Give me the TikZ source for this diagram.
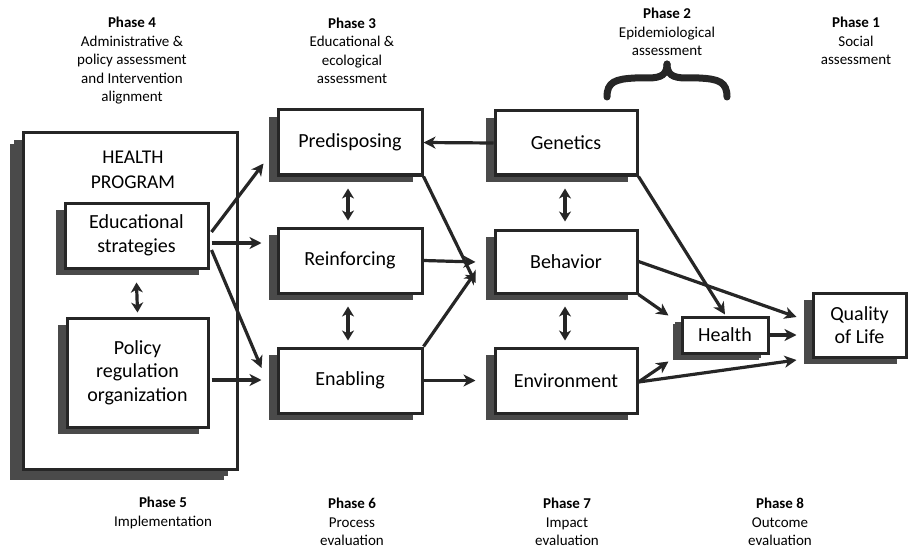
\documentclass[tikz,border=0pt]{standalone}
\usepackage{fontspec}
\setmainfont{Carlito}
\usetikzlibrary{shadows,arrows.meta,calc}
\definecolor{shd}{HTML}{4A4A4A}
\definecolor{ln}{HTML}{262626}
\tikzset{
  boxx/.style={draw=ln, line width=3pt, fill=white, align=center, inner sep=0pt,
    font=\fontsize{20}{23.5}\selectfont,
    general shadow={fill=shd, draw=none, shadow xshift=-9pt, shadow yshift=-7pt}},
  arr/.style={draw=ln, line width=3.2pt, -{Stealth[length=12pt,width=12pt,inset=3.5pt]}},
  darr/.style={draw=ln, line width=3.2pt, {Stealth[length=10pt,width=12pt,inset=3pt]}-{Stealth[length=10pt,width=12pt,inset=3pt]}},
  phase/.style={align=center, inner sep=0pt, font=\fontsize{15}{18.5}\selectfont}
}
\begin{document}
\begin{tikzpicture}[x=1pt,y=-1pt]
\useasboundingbox (0,0) rectangle (909,548);
% outer program box
\node[boxx, minimum width=214pt, minimum height=336pt,
  general shadow={fill=shd, draw=none, shadow xshift=-13pt, shadow yshift=-11pt}] (prog) at (130,301) {};
\node[align=center, inner sep=0pt, font=\fontsize{19.5}{25}\selectfont] (progt) at (133,170) {HEALTH\\PROGRAM};
\node[boxx, minimum width=143pt, minimum height=65pt] (edu) at (136.5,235.5) {Educational\\strategies};
\node[boxx, minimum width=141pt, minimum height=109pt] (pol) at (137.5,372.5) {Policy\\regulation\\organization};
% column 2
\node[boxx, minimum width=144pt, minimum height=65pt] (pre) at (350,142.5) {Predisposing};
\node[boxx, minimum width=144pt, minimum height=65pt] (rei) at (350,260.5) {Reinforcing};
\node[boxx, minimum width=144pt, minimum height=65pt] (ena) at (350,380.5) {Enabling};
% column 3
\node[boxx, minimum width=142pt, minimum height=64pt] (gen) at (566,143) {Genetics};
\node[boxx, minimum width=142pt, minimum height=63pt] (beh) at (566,261.5) {Behavior};
\node[boxx, minimum width=142pt, minimum height=65pt] (env) at (566,380.5) {Environment};
% right
\node[boxx, minimum width=86pt, minimum height=36pt,
  general shadow={fill=shd, draw=none, shadow xshift=-7pt, shadow yshift=-5pt}] (hea) at (725,335) {Health};
\node[boxx, minimum width=93pt, minimum height=64pt] (qol) at (859.5,325) {Quality\\of Life};
% arrows from program
\draw[arr] ($(edu.east)+(2,-3.5)$) -- ($(pre.south west)+(-13,-13)$);
\draw[arr] ($(edu.east)+(2,7.5)$) -- ($(rei.west)+(-15,-17.5)$);
\draw[arr] ($(edu.east)+(2,14.5)$) -- ($(ena.west)+(-15,-12.5)$);
\draw[arr] ($(pol.east)+(2,7.5)$) -- ($(ena.west)+(-15,-0.5)$);
\draw[darr] ($(edu.south)+(0,13)$) -- ($(pol.north)+(0,-4)$);
% column 2
\draw[arr] (gen.west) -- (pre.east);
\draw[arr] (pre.south east) -- ($(beh.west)+(-18,21.5)$);
\draw[arr] (rei.east) -- ($(beh.west)+(-18,0.5)$);
\draw[arr] (ena.north east) -- ($(beh.west)+(-18,10.5)$);
\draw[arr] (ena.east) -- ($(env.west)+(-18,0)$);
\draw[darr] ($(pre.south)+(-2,12)$) -- ($(rei.north)+(-2,-6)$);
\draw[darr] ($(rei.south)+(-2,12)$) -- ($(ena.north)+(-2,-6)$);
% column 3
\draw[darr] ($(gen.south)+(-1,12)$) -- ($(beh.north)+(-1,-7)$);
\draw[darr] ($(beh.south)+(-1,12)$) -- ($(env.north)+(-1,-6)$);
\draw[arr] (gen.south east) -- ($(hea.north)+(0,-1)$);
\draw[arr] (beh.east) -- ($(qol.west)+(-15,-8)$);
\draw[arr] (beh.south east) -- ($(hea.north west)+(-12,0)$);
\draw[arr] ($(env.east)+(0,1.5)$) -- ($(hea.south west)+(-12,7)$);
\draw[arr] ($(env.east)+(0,1.5)$) -- ($(qol.west)+(-15,35)$);
\draw[arr] (hea.east) -- ($(qol.west)+(-15,10)$);
% brace
\draw[ln, line width=7pt, line cap=round] (607,97) .. controls (607,82) and (615,79) .. (635,78) -- (648,78) .. controls (662,78) and (667,74) .. (667,64);
\draw[ln, line width=7pt, line cap=round] (727,97) .. controls (727,82) and (719,79) .. (699,78) -- (686,78) .. controls (672,78) and (667,74) .. (667,64);
% phase labels top
\node[phase] (p4) at (132,61) {\textbf{Phase 4}\\Administrative \&\\policy assessment\\and Intervention\\alignment};
\node[phase] (p3) at (352,51) {\textbf{Phase 3}\\Educational \&\\ecological\\assessment};
\node[phase] (p2) at (667,32) {\textbf{Phase 2}\\Epidemiological\\assessment};
\node[phase] (p1) at (856,41) {\textbf{Phase 1}\\Social\\assessment};
% phase labels bottom
\node[phase] (p5) at (163,513) {\textbf{Phase 5}\\Implementation};
\node[phase] (p6) at (352,522) {\textbf{Phase 6}\\Process\\evaluation};
\node[phase] (p7) at (567,522) {\textbf{Phase 7}\\Impact\\evaluation};
\node[phase] (p8) at (780,522) {\textbf{Phase 8}\\Outcome\\evaluation};
\end{tikzpicture}
\end{document}
